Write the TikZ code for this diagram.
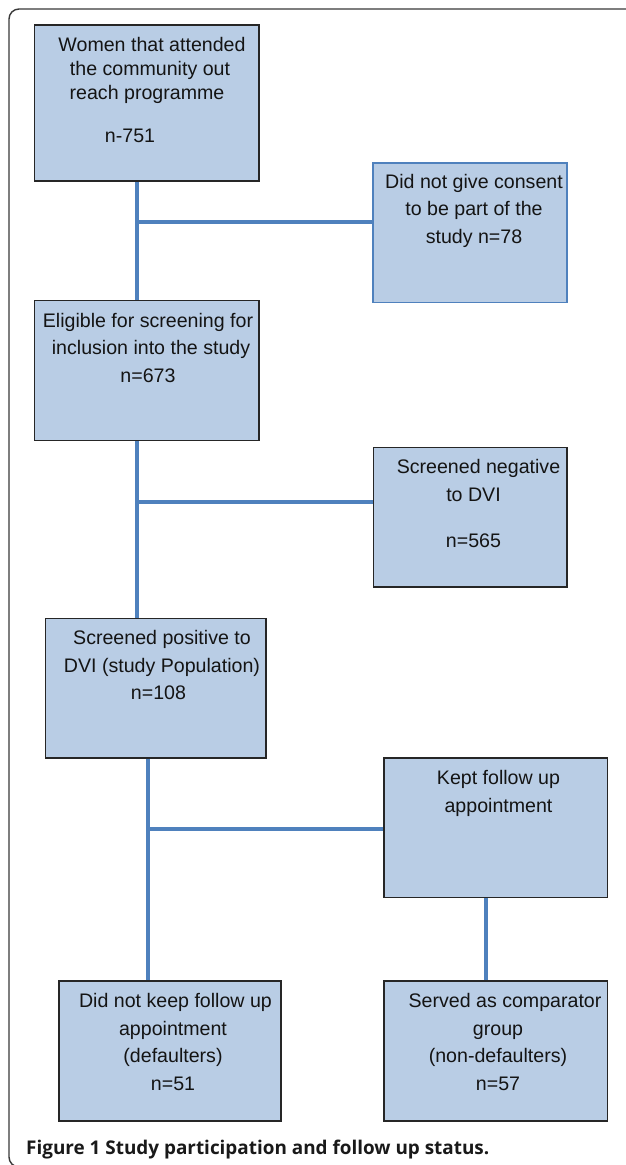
\documentclass[tikz,border=0pt]{standalone}
\usepackage{fontspec}
\setmainfont{Liberation Sans}
\newfontfamily\capfont{Open Sans}
\usetikzlibrary{backgrounds}
\definecolor{boxfill}{HTML}{B9CDE5}
\definecolor{linkblue}{HTML}{4F81BD}
\definecolor{edgegray}{HTML}{262626}
\definecolor{framegray}{HTML}{3A3A3A}
\tikzset{
  box/.style={draw=edgegray, line width=1.2pt, fill=boxfill, inner sep=0pt, outer sep=0pt, anchor=north west},
  bluebox/.style={box, draw=linkblue},
  txt/.style={anchor=north, align=center, inner sep=0pt, outer sep=0pt, font=\fontsize{19.6}{27.5}\selectfont, text=black!92},
  txttight/.style={txt, font=\fontsize{19.6}{24.2}\selectfont},
  link/.style={draw=linkblue, line width=4pt},
  frameline/.style={draw=framegray, line width=1.4pt, rounded corners=10pt}
}
\begin{document}
\begin{tikzpicture}[x=1pt,y=-1pt]
\useasboundingbox (0,0) rectangle (625,1165);
% boxes
\node[box, minimum width=224.3pt, minimum height=156pt] (b1) at (34.7,25) {};
\node[bluebox, minimum width=194pt, minimum height=139.5pt] (b2) at (373,163) {};
\node[box, minimum width=224.3pt, minimum height=140pt] (b3) at (34.7,300.7) {};
\node[box, minimum width=193.5pt, minimum height=139.3pt] (b4) at (373.5,447.7) {};
\node[box, minimum width=220.6pt, minimum height=139.7pt] (b5) at (45.4,618.3) {};
\node[box, minimum width=223.8pt, minimum height=139.7pt] (b6) at (384,758) {};
\node[box, minimum width=222pt, minimum height=140pt] (b7) at (59,981) {};
\node[box, minimum width=223.8pt, minimum height=140pt] (b8) at (384,981) {};
% texts
\node[txttight] (t1) at (150,34.36) {\strut\hspace*{4pt}Women that attended\\the community out\\\hspace*{-6pt}reach programme\\[18.1pt]\hspace*{-40pt}n-751};
\node[txt] (t2) at (474,169.05) {\strut Did not give consent\\to be part of the\\study n=78};
\node[txt] (t3) at (148,307.75) {\strut Eligible for screening for\\\hspace*{6pt}inclusion into the study\\n=673};
\node[txt] (t4) at (473.5,454.25) {\strut\hspace*{10pt}Screened negative\\to DVI\\[18.5pt]n=565};
\node[txt] (t5) at (162,625.25) {\strut Screened positive to\\DVI (study Population)\\\hspace*{-7pt}n=108};
\node[txt] (t6) at (498.5,765.25) {\strut Kept follow up\\appointment};
\node[txt] (t7) at (173,988.25) {\strut\hspace*{5pt}Did not keep follow up\\appointment\\(defaulters)\\n=51};
\node[txt] (t8) at (498,988.25) {\strut\hspace*{14pt}Served as comparator\\group\\(non-defaulters)\\n=57};
% caption
\node[anchor=base west, inner sep=0pt, font=\capfont\bfseries\fontsize{18.9}{22}\selectfont, text=black!90] (cap) at (26,1154) {Figure 1 Study participation and follow up status.};
% connectors and frame underneath
\begin{pgfonlayer}{background}
\fill[white] (0,0) rectangle (625,1165);
\draw[frameline] (9,9) rectangle (660,1167);
\coordinate (j1) at (137,222.3);
\draw[link] (j1 |- b1.south) -- (j1 |- b3.north);
\draw[link] (j1) -- (j1 -| b2.west);
\coordinate (j2) at (137,502.3);
\draw[link] (j2 |- b3.south) -- (j2 |- b5.north);
\draw[link] (j2) -- (j2 -| b4.west);
\coordinate (j3) at (147.5,829.3);
\draw[link] (j3 |- b5.south) -- (j3 |- b7.north);
\draw[link] (j3) -- (j3 -| b6.west);
\coordinate (j4) at (486,900);
\draw[link] (j4 |- b6.south) -- (j4 |- b8.north);
\end{pgfonlayer}
\end{tikzpicture}
\end{document}
